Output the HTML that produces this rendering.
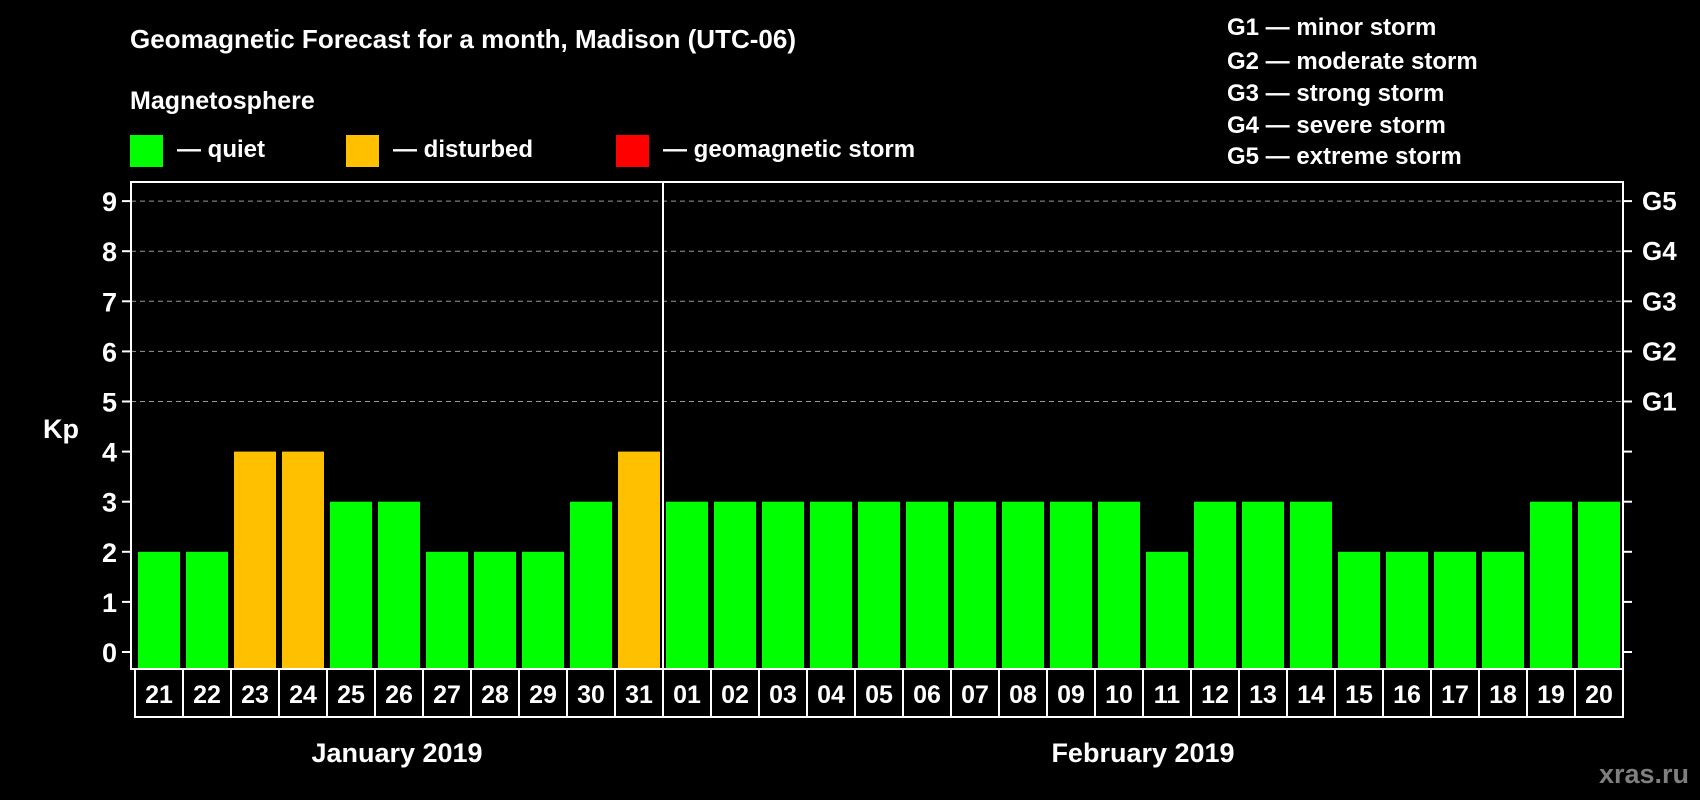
<!DOCTYPE html>
<html><head><meta charset="utf-8"><style>
html,body{margin:0;padding:0;background:#000;}
svg{display:block;font-family:"Liberation Sans",Arial,sans-serif;font-weight:bold;}
</style></head><body>
<svg id="chart" width="1700" height="800" viewBox="0 0 1700 800" xmlns="http://www.w3.org/2000/svg">
<rect width="1700" height="800" fill="#000"/>
<text x="130" y="48" fill="#fff" font-size="26">Geomagnetic Forecast for a month, Madison (UTC-06)</text>
<text x="130" y="109" fill="#fff" font-size="25">Magnetosphere</text>
<g><rect x="130" y="135" width="33" height="32" fill="#00ff00"/><text x="177" y="157" fill="#fff" font-size="24">— quiet</text></g>
<g><rect x="346" y="135" width="33" height="32" fill="#ffc000"/><text x="393" y="157" fill="#fff" font-size="24">— disturbed</text></g>
<g><rect x="616" y="135" width="33" height="32" fill="#ff0000"/><text x="663" y="157" fill="#fff" font-size="24">— geomagnetic storm</text></g>
<g fill="#fff" font-size="24">
<text x="1227" y="35">G1 — minor storm</text>
<text x="1227" y="69">G2 — moderate storm</text>
<text x="1227" y="101">G3 — strong storm</text>
<text x="1227" y="133">G4 — severe storm</text>
<text x="1227" y="164">G5 — extreme storm</text>
</g>
<text x="43" y="438" fill="#fff" font-size="27">Kp</text>
<g id="grid"></g><g id="bars"></g><g id="axes"></g>
<text x="397" y="762" fill="#fff" font-size="27" text-anchor="middle">January 2019</text>
<text x="1143" y="762" fill="#fff" font-size="27" text-anchor="middle">February 2019</text>
<text x="1689" y="783" fill="#7f7f7f" font-size="27" text-anchor="end">xras.ru</text>
</svg>
<script>
const days = ["21","22","23","24","25","26","27","28","29","30","31","01","02","03","04","05","06","07","08","09","10","11","12","13","14","15","16","17","18","19","20"];
const kpValues = [2,2,4,4,3,3,2,2,2,3,4,3,3,3,3,3,3,3,3,3,3,2,3,3,3,2,2,2,2,3,3];
const yTicks = [0,1,2,3,4,5,6,7,8,9];
const gLabels = ["G1","G2","G3","G4","G5"];
const gLevels = [5,6,7,8,9];
const monthSplit = 11;

const NS="http://www.w3.org/2000/svg";
const L=131,R=1623,T=182,B=669;
const y=v=>652-v*50.1;
const slot=(R-L-4)/days.length;
const x=i=>138+i*slot;
function mk(tag,attrs,parent,txt){const e=document.createElementNS(NS,tag);for(const k in attrs)e.setAttribute(k,attrs[k]);if(txt!==undefined)e.textContent=txt;parent.appendChild(e);return e;}
const grid=document.getElementById('grid'),bars=document.getElementById('bars'),axes=document.getElementById('axes');
gLevels.forEach((v,j)=>{
 const g=mk('line',{x1:L,x2:R,y1:y(v),y2:y(v),stroke:'#999','stroke-dasharray':'5,4','stroke-width':1},grid);
 
 
 const t=mk('text',{x:1642,y:y(v)+9,fill:'#fff','font-size':26},axes,gLabels[j]);
 
 
});
kpValues.forEach((v,i)=>{
 const col=v>=5?'#ff0000':(v>=4?'#ffc000':'#00ff00');
 const r=mk('rect',{x:x(i),y:y(v),width:slot-6,height:B-y(v),fill:col},bars);
 
 
 const c=mk('rect',{x:135+i*slot,y:B,width:slot,height:48,fill:'none',stroke:'#fff','stroke-width':2},axes);
 
 
 const t=mk('text',{x:135+i*slot+slot/2,y:B+34,fill:'#fff','font-size':25,'text-anchor':'middle'},axes,days[i]);
 
 
});
const frame=mk('rect',{x:L,y:T,width:R-L,height:B-T,fill:'none',stroke:'#fff','stroke-width':2},axes);


const div=mk('line',{x1:135+monthSplit*slot,x2:135+monthSplit*slot,y1:T,y2:B,stroke:'#fff','stroke-width':2},axes);


yTicks.forEach(v=>{
 const a=mk('line',{x1:122,x2:L,y1:y(v),y2:y(v),stroke:'#fff','stroke-width':2},axes);
 
 
 const b=mk('line',{x1:R,x2:R+9,y1:y(v),y2:y(v),stroke:'#fff','stroke-width':2},axes);
 
 
 const t=mk('text',{x:117,y:y(v)+10,fill:'#fff','font-size':27,'text-anchor':'end'},axes,String(v));
 
 
});
</script>
</body></html>
